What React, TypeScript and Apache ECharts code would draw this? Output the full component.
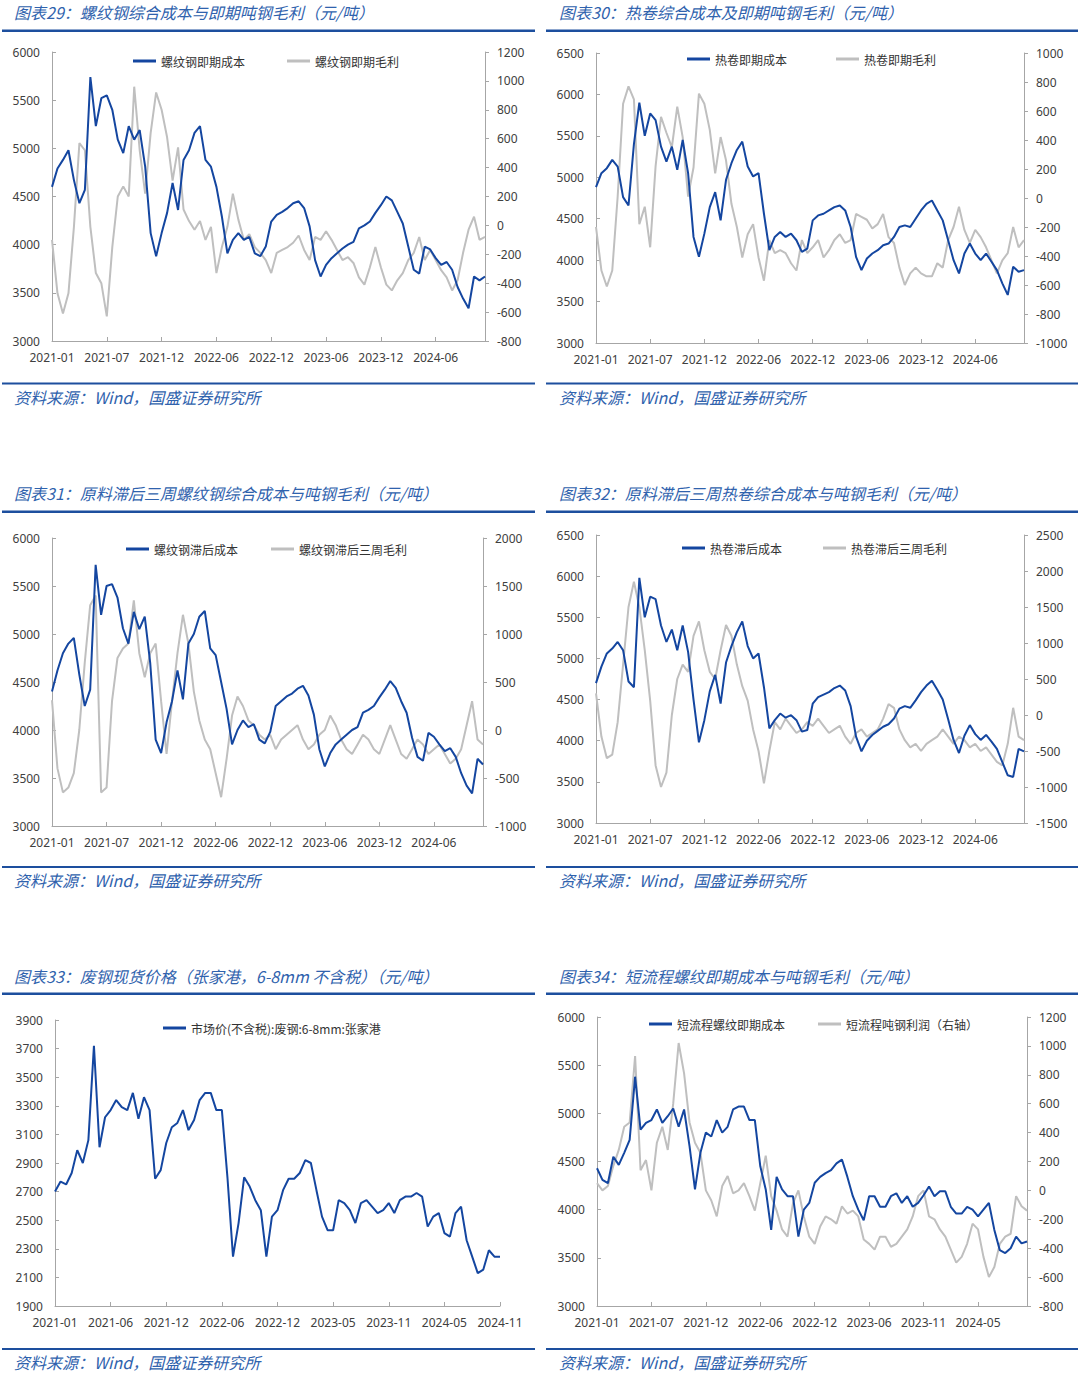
import React, { useEffect, useRef } from "react";
import * as echarts from "echarts";

// ---------- tick labels ----------
const ticksA = ["2021-01", "2021-07", "2021-12", "2022-06", "2022-12", "2023-06", "2023-12", "2024-06"];
const ticks33 = ["2021-01", "2021-06", "2021-12", "2022-06", "2022-12", "2023-05", "2023-11", "2024-05", "2024-11"];
const ticks34 = ["2021-01", "2021-07", "2021-12", "2022-06", "2022-12", "2023-06", "2023-11", "2024-05"];

// ---------- series values ----------
const cost29 = [
  4600, 4790, 4880, 4980, 4670, 4430, 4570, 5740, 5230, 5520,
  5550, 5400, 5090, 4950, 5230, 5090, 5190, 4810, 4120, 3880,
  4120, 4330, 4640, 4360, 4880, 4980, 5160, 5230, 4880, 4810,
  4600, 4290, 3910, 4050, 4120, 4050, 4080, 3910, 3880, 3980,
  4240, 4310, 4340, 4380, 4430, 4450, 4380, 4190, 3840, 3670,
  3790, 3860, 3910, 3960, 4000, 4030, 4170, 4200, 4240, 4330,
  4410, 4500, 4460, 4340, 4220, 3980, 3740, 3700, 3980, 3950,
  3860, 3790, 3820, 3740, 3560, 3440, 3340, 3670, 3630, 3670,
];
const margin29 = [
  -100, -470, -610, -470, -10, 570, 520, -10, -330, -400,
  -630, -150, 200, 270, 200, 960, 520, 220, 640, 920,
  800, 610, 310, 540, 110, 30, -30, 30, -100, -10,
  -330, -150, -10, 220, 40, -100, -60, -150, -190, -240,
  -330, -190, -170, -150, -120, -70, -170, -240, -80, -100,
  -40, -100, -170, -240, -220, -260, -360, -410, -290, -150,
  -290, -410, -450, -380, -330, -240, -190, -80, -240, -170,
  -240, -310, -360, -450, -380, -190, -30, 60, -100, -80,
];
const cost30 = [
  4880, 5050, 5110, 5210, 5130, 4760, 4660, 5400, 5900, 5500,
  5770, 5690, 5370, 5190, 5370, 5090, 5450, 5050, 4280, 4040,
  4320, 4640, 4820, 4480, 4970, 5170, 5330, 5430, 5130, 5010,
  5050, 4560, 4120, 4280, 4340, 4280, 4320, 4240, 4100, 4140,
  4480, 4540, 4560, 4600, 4640, 4660, 4600, 4400, 4040, 3880,
  4020, 4080, 4120, 4180, 4200, 4280, 4400, 4420, 4400, 4500,
  4600, 4680, 4720, 4600, 4480, 4240, 4000, 3840, 4080, 4200,
  4080, 4000, 4080, 3980, 3880, 3720, 3580, 3920, 3860, 3880,
];
const margin30 = [
  -200, -500, -610, -500, 10, 650, 770, 680, -180, -60,
  -340, 220, 560, 450, 350, 630, 420, 10, 210, 720,
  650, 470, 170, 420, 260, -40, -200, -410, -250, -180,
  -410, -570, -290, -380, -360, -380, -450, -500, -290, -380,
  -340, -290, -410, -360, -290, -250, -310, -290, -110, -130,
  -150, -210, -180, -110, -270, -310, -480, -600, -520, -480,
  -520, -540, -540, -450, -480, -290, -200, -60, -220, -310,
  -220, -270, -340, -430, -520, -430, -380, -200, -340, -290,
];
const cost31 = [
  4400, 4620, 4800, 4900, 4960, 4580, 4250, 4420, 5720, 5200,
  5500, 5520, 5380, 5060, 4900, 5230, 5050, 5180, 4700, 3900,
  3760, 4080, 4300, 4620, 4320, 4900, 5000, 5180, 5240, 4850,
  4780, 4500, 4220, 3850, 4000, 4100, 4030, 4060, 3900, 3860,
  3980, 4250, 4300, 4350, 4380, 4430, 4460, 4360, 4160, 3800,
  3620, 3760, 3850, 3900, 3950, 4000, 4030, 4180, 4210, 4250,
  4340, 4420, 4510, 4440, 4300, 4180, 3920, 3720, 3680, 3970,
  3930, 3850, 3780, 3810, 3720, 3550, 3420, 3340, 3700, 3640,
];
const margin31 = [
  310, -400, -650, -600, -450, 0, 700, 1300, 1400, -650,
  -600, 300, 750, 850, 900, 1350, 800, 550, 800, 900,
  300, -250, 300, 800, 1200, 900, 400, 100, -100, -200,
  -450, -700, -300, 150, 350, 250, 100, 50, -50, -100,
  -50, -200, -100, -50, 0, 50, -100, -200, -150, -50,
  0, 150, 50, -100, -200, -250, -150, -50, -100, -200,
  -250, -100, 50, -100, -250, -300, -200, -100, -150, -250,
  -200, -150, -250, -350, -300, -200, 50, 300, -100, -150,
];
const cost32 = [
  4700, 4900, 5060, 5120, 5200, 5100, 4720, 4650, 5980, 5500,
  5750, 5720, 5400, 5200, 5350, 5100, 5400, 5080, 4500, 3980,
  4250, 4600, 4800, 4450, 4950, 5150, 5320, 5450, 5150, 5000,
  5060, 4650, 4150, 4250, 4330, 4280, 4310, 4250, 4110, 4130,
  4450, 4530, 4560, 4590, 4640, 4670, 4610, 4420, 4050, 3870,
  4000, 4070, 4120, 4170, 4200, 4270, 4390, 4420, 4400, 4490,
  4590, 4670, 4730, 4620, 4500, 4260, 4010, 3850, 4060, 4190,
  4080, 4010, 4070, 3990, 3900, 3740, 3580, 3560, 3900, 3870,
];
const margin32 = [
  300, -300, -600, -550, -100, 700, 1500, 1850, 1500, 900,
  200, -700, -1000, -800, 0, 500, 700, 600, 1100, 1300,
  900, 600, 500, 900, 1250, 1100, 700, 400, 200, -200,
  -500, -950, -500, -100, -200, -50, -150, -250, -200, -100,
  -150, -50, -150, -250, -200, -150, -300, -400, -250, -200,
  -300, -250, -200, -50, 150, 100, -200, -350, -450, -400,
  -500, -400, -350, -300, -200, -300, -400, -300, -350, -450,
  -400, -500, -450, -550, -650, -700, -400, 100, -300, -350,
];
const scrap33 = [
  2700, 2770, 2750, 2830, 2990, 2900, 3060, 3720, 3010, 3220,
  3270, 3340, 3290, 3270, 3390, 3210, 3360, 3270, 2790, 2850,
  3040, 3150, 3180, 3270, 3130, 3200, 3340, 3390, 3390, 3270,
  3270, 2800, 2245, 2480, 2800, 2735, 2640, 2570, 2245, 2525,
  2570, 2710, 2790, 2790, 2830, 2920, 2900, 2710, 2525, 2430,
  2430, 2640, 2620, 2570, 2480, 2620, 2640, 2595, 2550, 2570,
  2620, 2550, 2640, 2665, 2665, 2690, 2665, 2455, 2525, 2550,
  2410, 2385, 2550, 2595, 2360, 2245, 2130, 2155, 2290, 2245,
  2245,
];
const cost34 = [
  4430, 4310, 4275, 4550, 4465, 4590, 4725, 5380, 4830, 4900,
  4930, 5040, 4900, 4970, 5050, 4860, 5040, 4660, 4210, 4590,
  4800, 4760, 4930, 4800, 4860, 5040, 5070, 5070, 4930, 4930,
  4450, 4210, 3790, 4340, 4210, 4140, 4140, 3720, 4000, 4070,
  4280, 4340, 4380, 4410, 4480, 4520, 4340, 4140, 4000, 3890,
  4140, 4140, 4030, 4030, 4140, 4170, 4070, 4140, 4030, 4070,
  4150, 4240, 4140, 4190, 4190, 4030, 3960, 3960, 4030, 4000,
  3930, 4000, 4070, 3790, 3580, 3550, 3600, 3720, 3650, 3670,
];
const margin34 = [
  50, 0, 30, 170, 280, 440, 470, 930, 140, 210,
  0, 330, 440, 280, 600, 1020, 810, 470, 330, 260,
  0, -70, -180, 30, 100, -20, 0, 50, -40, -140,
  50, 240, -40, -140, -270, -320, -90, 0, -180, -320,
  -370, -250, -180, -200, -230, -110, -160, -140, -180, -340,
  -370, -410, -320, -320, -390, -370, -320, -270, -180, -40,
  0, -180, -200, -270, -320, -410, -500, -460, -370, -230,
  -270, -460, -600, -530, -370, -320, -300, -40, -110, -140,
];

// ---------- styles ----------
const BLUE = "#1446a0";
const GREY = "#bfbfbf";
const TITLE_COLOR = "#2f62ad";
const RULE_COLOR = "#1d4f9e";
const AXIS_COLOR = "#a6a6a6";
const LABEL_COLOR = "#404040";
const LATIN_FONT = "'Noto Sans', 'DejaVu Sans', sans-serif";
const CJK_FONT = "'Noto Sans CJK SC', 'Noto Sans', sans-serif";
const SOURCE_TEXT = "资料来源：Wind，国盛证券研究所";

const rowY = [
  { title: 12, ruleTop: 29.5, ruleBottom: 382.5, source: 397 },
  { title: 493, ruleTop: 510.5, ruleBottom: 866, source: 880 },
  { title: 976, ruleTop: 992.5, ruleBottom: 1348, source: 1362 },
];
const colX = [
  { text: 14, rule: 2, ruleW: 533 },
  { text: 559, rule: 546, ruleW: 532 },
];

const panels = [
  {
    title: "图表29：螺纹钢综合成本与即期吨钢毛利（元/吨）", row: 0, col: 0,
    grid: { left: 52, top: 52, width: 433, height: 289 },
    xMax: 79, ticks: ticksA, left: [3000, 6000, 500], right: [-800, 1200, 200],
    legend: { left: 133, top: 55, gap: 42 },
    series: [
      { name: "螺纹钢即期成本", data: cost29, color: BLUE, right: false },
      { name: "螺纹钢即期毛利", data: margin29, color: GREY, right: true },
    ],
  },
  {
    title: "图表30：热卷综合成本及即期吨钢毛利（元/吨）", row: 0, col: 1,
    grid: { left: 596, top: 53, width: 428, height: 290 },
    xMax: 79, ticks: ticksA, left: [3000, 6500, 500], right: [-1000, 1000, 200],
    legend: { left: 687, top: 53, gap: 49 },
    series: [
      { name: "热卷即期成本", data: cost30, color: BLUE, right: false },
      { name: "热卷即期毛利", data: margin30, color: GREY, right: true },
    ],
  },
  {
    title: "图表31：原料滞后三周螺纹钢综合成本与吨钢毛利（元/吨）", row: 1, col: 0,
    grid: { left: 52, top: 538, width: 431, height: 288 },
    xMax: 79, ticks: ticksA, left: [3000, 6000, 500], right: [-1000, 2000, 500],
    legend: { left: 126, top: 543, gap: 33 },
    series: [
      { name: "螺纹钢滞后成本", data: cost31, color: BLUE, right: false },
      { name: "螺纹钢滞后三周毛利", data: margin31, color: GREY, right: true },
    ],
  },
  {
    title: "图表32：原料滞后三周热卷综合成本与吨钢毛利（元/吨）", row: 1, col: 1,
    grid: { left: 596, top: 535, width: 428, height: 288 },
    xMax: 79, ticks: ticksA, left: [3000, 6500, 500], right: [-1500, 2500, 500],
    legend: { left: 682, top: 542, gap: 41 },
    series: [
      { name: "热卷滞后成本", data: cost32, color: BLUE, right: false },
      { name: "热卷滞后三周毛利", data: margin32, color: GREY, right: true },
    ],
  },
  {
    title: "图表33：废钢现货价格（张家港，6-8mm 不含税）（元/吨）", row: 2, col: 0,
    grid: { left: 55, top: 1020, width: 445, height: 286 },
    xMax: 80, ticks: ticks33, left: [1900, 3900, 200], right: null,
    legend: { left: 163, top: 1022, gap: 40 },
    series: [
      { name: "市场价(不含税):废钢:6-8mm:张家港", data: scrap33, color: BLUE, right: false },
    ],
  },
  {
    title: "图表34：短流程螺纹即期成本与吨钢毛利（元/吨）", row: 2, col: 1,
    grid: { left: 597, top: 1017, width: 430, height: 289 },
    xMax: 79, ticks: ticks34, left: [3000, 6000, 500], right: [-800, 1200, 200],
    legend: { left: 649, top: 1018, gap: 33 },
    series: [
      { name: "短流程螺纹即期成本", data: cost34, color: BLUE, right: false },
      { name: "短流程吨钢利润（右轴）", data: margin34, color: GREY, right: true },
    ],
  },
];

const labelStyle = { color: LABEL_COLOR, fontSize: 12, fontFamily: LATIN_FONT };

function xAxisFor(gridIndex: number, max: number, labels: string[]) {
  return {
    type: "value",
    gridIndex,
    min: 0,
    max,
    interval: 10,
    axisLine: { show: true, onZero: false, lineStyle: { color: AXIS_COLOR, width: 1 } },
    axisTick: { show: true, inside: true, length: 4, lineStyle: { color: AXIS_COLOR } },
    axisLabel: {
      ...labelStyle,
      margin: 10,
      showMinLabel: true,
      showMaxLabel: true,
      formatter: (v: number) => (v % 10 === 0 && labels[v / 10] !== undefined ? labels[v / 10] : ""),
    },
    splitLine: { show: false },
  };
}

function yAxisFor(gridIndex: number, position: string, r: number[]) {
  return {
    type: "value",
    gridIndex,
    position,
    min: r[0],
    max: r[1],
    interval: r[2],
    axisLine: { show: true, onZero: false, lineStyle: { color: AXIS_COLOR, width: 1 } },
    axisTick: { show: true, inside: position === "left", length: 4, lineStyle: { color: AXIS_COLOR } },
    axisLabel: { ...labelStyle, margin: 12, formatter: (v: number) => String(v) },
    splitLine: { show: false },
  };
}

export default function App() {
  const ref = useRef<HTMLDivElement>(null);

  useEffect(() => {
    if (!ref.current) return;
    const chart = echarts.init(ref.current, undefined, { renderer: "svg" });

    const grids: any[] = [];
    const xAxes: any[] = [];
    const yAxes: any[] = [];
    const series: any[] = [];
    const legends: any[] = [];
    const graphics: any[] = [];

    panels.forEach((p, gi) => {
      grids.push({ ...p.grid });
      xAxes.push(xAxisFor(gi, p.xMax, p.ticks));
      const leftIdx = yAxes.length;
      yAxes.push(yAxisFor(gi, "left", p.left));
      let rightIdx = leftIdx;
      if (p.right) {
        rightIdx = yAxes.length;
        yAxes.push(yAxisFor(gi, "right", p.right));
      }
      p.series.forEach((s) => {
        series.push({
          type: "line",
          name: s.name,
          xAxisIndex: gi,
          yAxisIndex: s.right ? rightIdx : leftIdx,
          data: s.data.map((v, i) => [i, v]),
          showSymbol: false,
          symbol: "none",
          lineStyle: { color: s.color, width: 2 },
          itemStyle: { color: s.color },
          z: s.right ? 2 : 3,
        });
      });
      legends.push({
        left: p.legend.left,
        top: p.legend.top,
        padding: 0,
        itemGap: p.legend.gap,
        itemWidth: 23,
        itemHeight: 3,
        icon: "rect",
        selectedMode: false,
        textStyle: { fontSize: 12, color: "#333", fontFamily: CJK_FONT },
        data: p.series.map((s) => s.name),
      });

      const ry = rowY[p.row];
      const cx = colX[p.col];
      graphics.push({
        type: "text",
        x: cx.text,
        y: ry.title,
        style: {
          text: p.title,
          fontSize: 16,
          fontStyle: "italic",
          fontFamily: CJK_FONT,
          fill: TITLE_COLOR,
          verticalAlign: "middle",
        },
      });
      graphics.push({
        type: "rect",
        shape: { x: cx.rule, y: ry.ruleTop, width: cx.ruleW, height: 2.5 },
        style: { fill: RULE_COLOR },
      });
      graphics.push({
        type: "rect",
        shape: { x: cx.rule, y: ry.ruleBottom, width: cx.ruleW, height: 2 },
        style: { fill: RULE_COLOR },
      });
      graphics.push({
        type: "text",
        x: cx.text,
        y: ry.source,
        style: {
          text: SOURCE_TEXT,
          fontSize: 16,
          fontStyle: "italic",
          fontFamily: CJK_FONT,
          fill: TITLE_COLOR,
          verticalAlign: "middle",
        },
      });
    });

    chart.setOption({
      animation: false,
      backgroundColor: "#ffffff",
      grid: grids,
      xAxis: xAxes,
      yAxis: yAxes,
      series,
      legend: legends,
      graphic: graphics,
      tooltip: { show: false },
    });

    return () => chart.dispose();
  }, []);

  return (
    <div
      ref={ref}
      style={{ position: "absolute", left: 0, top: 0, width: 1080, height: 1374, background: "#fff" }}
    />
  );
}
